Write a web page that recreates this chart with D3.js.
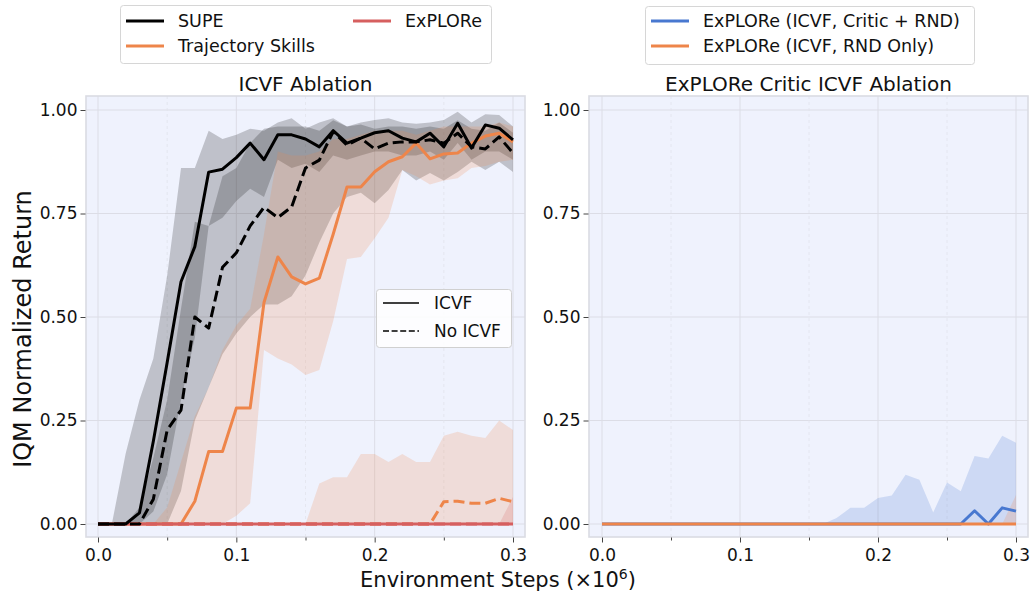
<!DOCTYPE html>
<html><head><meta charset="utf-8">
<script src="https://cdn.jsdelivr.net/npm/d3@7"></script>
<style>body{margin:0;background:#fff} svg{display:block;font-family:"DejaVu Sans",sans-serif}</style>
</head><body><svg id="c" width="1031" height="592"></svg>
<script>
// ---------- DATA ----------
const steps = [0,0.01,0.02,0.03,0.04,0.05,0.06,0.07,0.08,0.09,0.10,0.11,0.12,0.13,0.14,0.15,0.16,0.17,0.18,0.19,0.20,0.21,0.22,0.23,0.24,0.25,0.26,0.27,0.28,0.29,0.30];
const xTicks = [0,0.1,0.2,0.3];
const xMinorTicks = [0.05,0.15,0.25];
const yTicks = [0,0.25,0.5,0.75,1.0];

// Left panel: ICVF Ablation
const supeIcvf   = [0,0,0,0.027,0.2,0.39,0.585,0.67,0.85,0.857,0.885,0.92,0.88,0.94,0.94,0.93,0.911,0.95,0.92,0.932,0.945,0.95,0.932,0.923,0.944,0.911,0.968,0.908,0.964,0.956,0.928];
const supeIcvfLo = [0,0,0,0,0.03,0.12,0.3,0.45,0.72,0.74,0.78,0.81,0.79,0.88,0.86,0.87,0.85,0.89,0.88,0.89,0.9,0.9,0.89,0.89,0.9,0.88,0.92,0.88,0.9,0.9,0.88];
const supeIcvfHi = [0,0,0.17,0.3,0.4,0.6,0.86,0.86,0.95,0.93,0.94,0.955,0.95,0.97,0.98,0.955,0.97,0.98,0.96,0.97,0.976,0.98,0.97,0.967,0.97,0.976,0.996,0.97,0.99,0.988,0.96];
const supeNo     = [0,0,0,0,0.06,0.227,0.275,0.5,0.473,0.62,0.655,0.72,0.765,0.74,0.766,0.86,0.879,0.948,0.915,0.932,0.906,0.92,0.923,0.923,0.928,0.92,0.944,0.911,0.906,0.935,0.896];
const supeNoLo   = [0,0,0,0,0,0,0.08,0.25,0.33,0.41,0.46,0.5,0.53,0.53,0.55,0.6,0.68,0.75,0.79,0.8,0.775,0.807,0.855,0.83,0.848,0.83,0.85,0.875,0.855,0.875,0.85];
const supeNoHi   = [0,0,0,0.04,0.16,0.3,0.52,0.73,0.72,0.84,0.86,0.92,0.955,0.96,0.96,0.96,0.95,0.975,0.96,0.965,0.955,0.96,0.96,0.955,0.96,0.955,0.975,0.955,0.95,0.97,0.945];
const trajIcvf   = [0,0,0,0,0,0,0,0.055,0.175,0.175,0.28,0.28,0.535,0.645,0.597,0.58,0.594,0.70,0.814,0.814,0.851,0.875,0.887,0.92,0.882,0.894,0.896,0.92,0.937,0.944,0.923];
const trajIcvfLo = [0,0,0,0,0,0,0,0,0,0,0.02,0.05,0.42,0.40,0.385,0.36,0.372,0.49,0.64,0.645,0.69,0.74,0.855,0.84,0.82,0.83,0.835,0.86,0.865,0.875,0.88];
const trajIcvfHi = [0,0,0,0,0,0.04,0.15,0.26,0.33,0.42,0.48,0.52,0.7,0.9,0.89,0.89,0.9,0.93,0.93,0.94,0.95,0.95,0.95,0.94,0.95,0.96,0.96,0.96,0.96,0.97,0.96];
const trajNo     = [0,0,0,0,0,0,0,0,0,0,0,0,0,0,0,0,0,0,0,0,0,0,0,0,0,0.054,0.055,0.05,0.05,0.062,0.054];
const trajNoLo   = [0,0,0,0,0,0,0,0,0,0,0,0,0,0,0,0,0,0,0,0,0,0,0,0,0,0,0,0,0,0,0];
const trajNoHi   = [0,0,0,0,0,0,0,0,0,0,0,0,0,0,0,0,0.098,0.113,0.113,0.169,0.169,0.15,0.169,0.15,0.15,0.213,0.223,0.213,0.208,0.25,0.227];
const exploreIcvf   = [0,0,0,0,0,0,0,0,0,0,0,0,0,0,0,0,0,0,0,0,0,0,0,0,0,0,0,0,0,0,0];
const exploreNo     = [0,0,0,0,0,0,0,0,0,0,0,0,0,0,0,0,0,0,0,0,0,0,0,0,0,0,0,0,0,0,0];
const exploreNoLo   = [0,0,0,0,0,0,0,0,0,0,0,0,0,0,0,0,0,0,0,0,0,0,0,0,0,0,0,0,0,0,0];
const exploreNoHi   = [0,0,0,0,0,0,0,0,0,0,0,0,0,0,0,0,0,0,0,0,0,0,0,0,0,0,0,0,0,0,0.065];

// Right panel: ExPLORe Critic ICVF Ablation
const criticRnd   = [0,0,0,0,0,0,0,0,0,0,0,0,0,0,0,0,0,0,0,0,0,0,0,0,0,0,0,0.032,0,0.039,0.031];
const criticRndLo = [0,0,0,0,0,0,0,0,0,0,0,0,0,0,0,0,0,0,0,0,0,0,0,0,0,0,0,0,0,0,0];
const criticRndHi = [0,0,0,0,0,0,0,0,0,0,0,0,0,0,0,0,0,0.0145,0.039,0.039,0.063,0.069,0.119,0.107,0.028,0.10,0.079,0.164,0.158,0.213,0.196];
const rndOnly     = [0,0,0,0,0,0,0,0,0,0,0,0,0,0,0,0,0,0,0,0,0,0,0,0,0,0,0,0,0,0,0];
const rndOnlyLo   = [0,0,0,0,0,0,0,0,0,0,0,0,0,0,0,0,0,0,0,0,0,0,0,0,0,0,0,0,0,0,0];
const rndOnlyHi   = [0,0,0,0,0,0,0,0,0,0,0,0,0,0,0,0,0,0,0,0,0,0,0,0,0,0,0,0,0,0,0.07];

const C = {black:"#000000", orange:"#ee854a", red:"#d65f5f", blue:"#4878d0"};

// ---------- DRAW ----------
const svg = d3.select("#c");
const BG = "#eff2fd", FRAME = "#dadbe3", GRID = "#dcdde6";
const topY = 96, bottomY = 537;

function panel(idx, cfg) {
  const x = d3.scaleLinear().domain([0, 0.3]).range([cfg.zx, cfg.ex]);
  const y = d3.scaleLinear().domain([0, 1]).range([524, 110]);
  const g = svg.append("g");
  g.append("rect").attr("x", cfg.x0).attr("y", topY).attr("width", cfg.x1 - cfg.x0).attr("height", bottomY - topY).attr("fill", BG);
  g.selectAll(".gy").data(yTicks).enter().append("line")
    .attr("x1", cfg.x0).attr("x2", cfg.x1).attr("y1", d => y(d)).attr("y2", d => y(d))
    .attr("stroke", GRID).attr("stroke-width", 1);
  g.selectAll(".gx").data(xTicks).enter().append("line")
    .attr("y1", topY).attr("y2", bottomY).attr("x1", d => x(d)).attr("x2", d => x(d))
    .attr("stroke", GRID).attr("stroke-width", 1);
  g.selectAll(".gxm").data(xMinorTicks).enter().append("line")
    .attr("y1", topY).attr("y2", bottomY).attr("x1", d => x(d)).attr("x2", d => x(d))
    .attr("stroke", "#e2e3ec").attr("stroke-width", 0.8).attr("stroke-dasharray", "3,3");

  const clipId = "clip" + idx;
  svg.append("clipPath").attr("id", clipId).append("rect")
    .attr("x", cfg.x0).attr("y", topY).attr("width", cfg.x1 - cfg.x0).attr("height", bottomY - topY);
  const plot = g.append("g").attr("clip-path", `url(#${clipId})`);

  const area = (lo, hi) => d3.area().x((d, i) => x(steps[i])).y0((d, i) => y(lo[i])).y1((d, i) => y(hi[i]))(steps);
  const line = (v) => d3.line().x((d, i) => x(steps[i])).y((d, i) => y(v[i]))(steps);

  cfg.bands.forEach(b => plot.append("path").attr("d", area(b.lo, b.hi)).attr("fill", b.color).attr("fill-opacity", 0.2));
  cfg.lines.forEach(l => plot.append("path").attr("d", line(l.v)).attr("fill", "none").attr("stroke", l.color)
    .attr("stroke-width", 3).attr("stroke-linejoin", "round").attr("stroke-dasharray", l.dash ? "11,5" : null));

  g.append("rect").attr("x", cfg.x0).attr("y", topY).attr("width", cfg.x1 - cfg.x0).attr("height", bottomY - topY)
    .attr("fill", "none").attr("stroke", FRAME).attr("stroke-width", 1.6);

  const ya = g.append("g").attr("transform", `translate(${cfg.x0 - 0.5},0)`)
    .call(d3.axisLeft(y).tickValues(yTicks).tickFormat(d3.format(".2f")).tickSize(5).tickPadding(3));
  const xa = g.append("g").attr("transform", `translate(0,${bottomY + 0.5})`)
    .call(d3.axisBottom(x).tickValues(xTicks).tickFormat(d3.format(".1f")).tickSize(5).tickPadding(6));
  const xm = g.append("g").attr("transform", `translate(0,${bottomY + 0.5})`)
    .call(d3.axisBottom(x).tickValues(xMinorTicks).tickFormat("").tickSize(3));
  [ya, xa, xm].forEach(a => {
    a.select(".domain").remove();
    a.selectAll("line").attr("stroke", "#444").attr("stroke-width", 1);
    a.selectAll("text").attr("font-size", 17).attr("fill", "#111").attr("font-family", '"DejaVu Sans",sans-serif');
  });

  g.append("text").attr("x", (cfg.x0 + cfg.x1) / 2).attr("y", 91).attr("text-anchor", "middle")
    .attr("font-size", 20).attr("fill", "#111").text(cfg.title);
  return {x, y};
}

panel(0, {
  x0: 86, x1: 525, zx: 98, ex: 513, title: "ICVF Ablation",
  bands: [
    {lo: supeIcvfLo, hi: supeIcvfHi, color: C.black},
    {lo: supeNoLo, hi: supeNoHi, color: C.black},
    {lo: trajIcvfLo, hi: trajIcvfHi, color: C.orange},
    {lo: trajNoLo, hi: trajNoHi, color: C.orange},
    {lo: exploreNoLo, hi: exploreNoHi, color: C.red}
  ],
  lines: [
    {v: trajIcvf, color: C.orange},
    {v: trajNo, color: C.orange, dash: true},
    {v: exploreNo, color: C.red, dash: true},
    {v: exploreIcvf, color: C.red},
    {v: supeNo, color: C.black, dash: true},
    {v: supeIcvf, color: C.black}
  ]
});

panel(1, {
  x0: 589, x1: 1028, zx: 602, ex: 1016, title: "ExPLORe Critic ICVF Ablation",
  bands: [
    {lo: criticRndLo, hi: criticRndHi, color: C.blue},
    {lo: rndOnlyLo, hi: rndOnlyHi, color: C.orange}
  ],
  lines: [
    {v: criticRnd, color: C.blue},
    {v: rndOnly, color: C.orange}
  ]
});

const il = svg.append("g");
il.append("rect").attr("x", 376.5).attr("y", 289.5).attr("width", 135).attr("height", 58).attr("rx", 3)
  .attr("fill", "#ffffff").attr("fill-opacity", 0.85).attr("stroke", "#d0d0d0");
il.append("line").attr("x1", 383).attr("x2", 419).attr("y1", 303).attr("y2", 303).attr("stroke", "#000").attr("stroke-width", 1.6);
il.append("line").attr("x1", 383).attr("x2", 419).attr("y1", 331).attr("y2", 331).attr("stroke", "#000").attr("stroke-width", 1.6).attr("stroke-dasharray", "6,2.6");
il.append("text").attr("x", 434).attr("y", 309).attr("font-size", 17).attr("fill", "#111").text("ICVF");
il.append("text").attr("x", 434).attr("y", 337).attr("font-size", 17).attr("fill", "#111").text("No ICVF");

function legend(box, items) {
  const lg = svg.append("g");
  lg.append("rect").attr("x", box.x + 0.5).attr("y", box.y + 0.5).attr("width", box.w).attr("height", box.h).attr("rx", 3)
    .attr("fill", "#fff").attr("stroke", "#d6d6d6");
  items.forEach(it => {
    lg.append("line").attr("x1", it.x).attr("x2", it.x + 38).attr("y1", it.y).attr("y2", it.y)
      .attr("stroke", it.color).attr("stroke-width", 3);
    lg.append("text").attr("x", it.x + 52).attr("y", it.y + 6).attr("font-size", 17.5).attr("fill", "#111").text(it.label);
  });
}
legend({x: 120, y: 5, w: 371, h: 58}, [
  {x: 126, y: 21, color: C.black, label: "SUPE"},
  {x: 126, y: 46, color: C.orange, label: "Trajectory Skills"},
  {x: 353, y: 21, color: C.red, label: "ExPLORe"}
]);
legend({x: 645, y: 6, w: 329, h: 58}, [
  {x: 651, y: 21, color: C.blue, label: "ExPLORe (ICVF, Critic + RND)"},
  {x: 651, y: 46, color: C.orange, label: "ExPLORe (ICVF, RND Only)"}
]);

svg.append("text").attr("transform", "translate(31,329) rotate(-90)").attr("text-anchor", "middle")
  .attr("font-size", 24).attr("fill", "#111").text("IQM Normalized Return");
const xl = svg.append("text").attr("x", 498).attr("y", 587).attr("text-anchor", "middle").attr("font-size", 21).attr("fill", "#111");
xl.append("tspan").text("Environment Steps (×10");
xl.append("tspan").attr("dy", -8).attr("font-size", 14).text("6");
xl.append("tspan").attr("dy", 8).text(")");
</script></body></html>
